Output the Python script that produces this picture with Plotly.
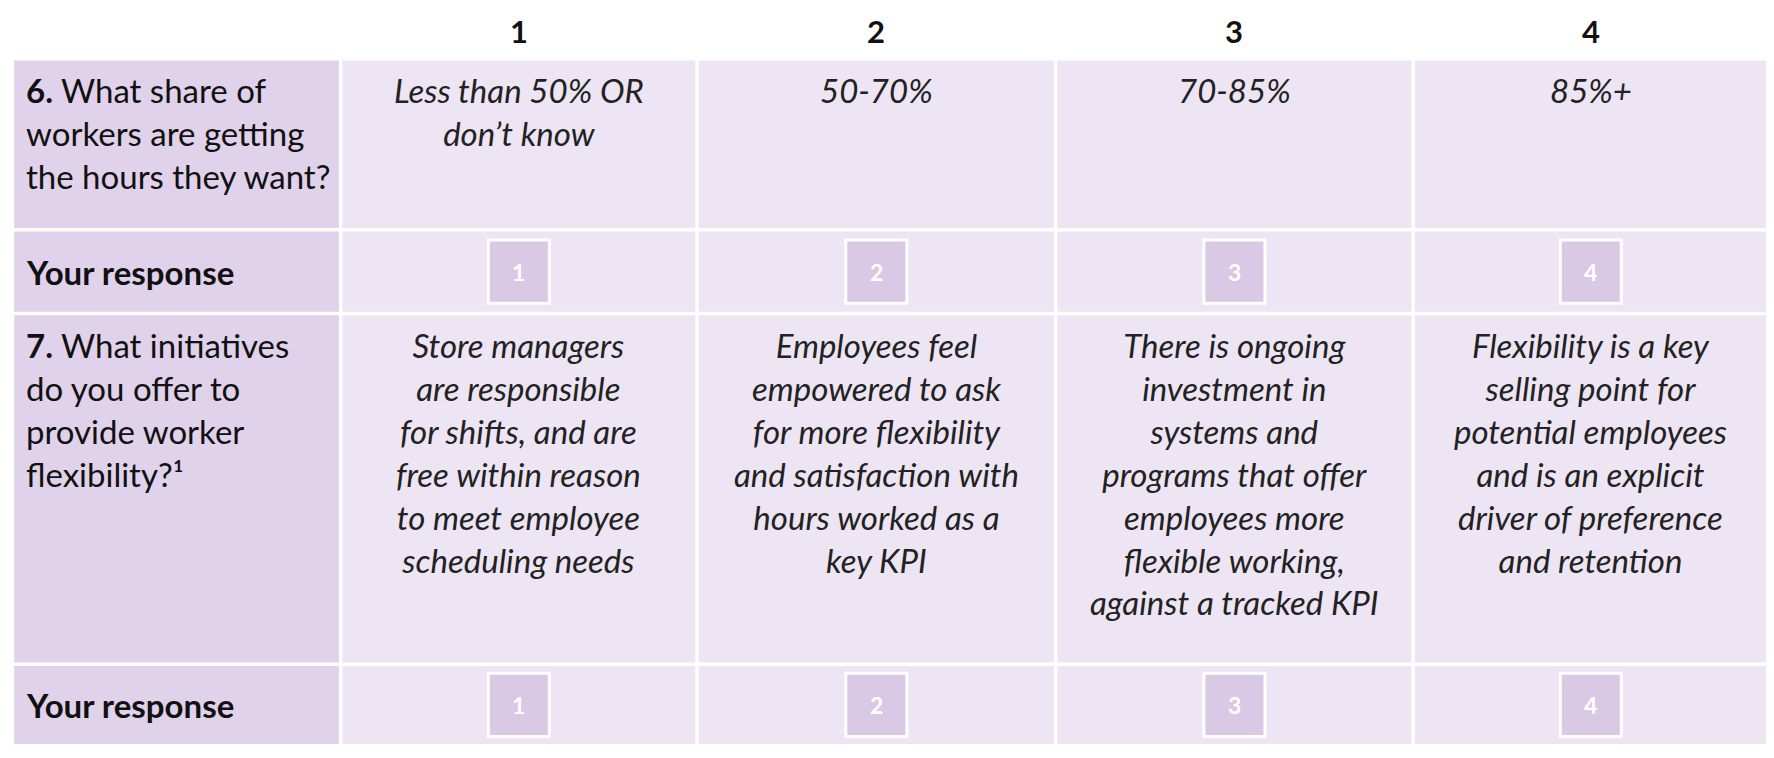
import plotly.graph_objects as go

col_numbers = ["1", "2", "3", "4"]
q6_label = "<b>6.</b> What share of<br>workers are getting<br>the hours they want?"
q6_options = ["<i>Less than 50% OR<br>don’t know</i>", "<i>50-70%</i>", "<i>70-85%</i>", "<i>85%+</i>"]
q7_label = "<b>7.</b> What initiatives<br>do you offer to<br>provide worker<br>flexibility?¹"
q7_options = [
    "<i>Store managers<br>are responsible<br>for shifts, and are<br>free within reason<br>to meet employee<br>scheduling needs</i>",
    "<i>Employees feel<br>empowered to ask<br>for more flexibility<br>and satisfaction with<br>hours worked as a<br>key KPI</i>",
    "<i>There is ongoing<br>investment in<br>systems and<br>programs that offer<br>employees more<br>flexible working,<br>against a tracked KPI</i>",
    "<i>Flexibility is a key<br>selling point for<br>potential employees<br>and is an explicit<br>driver of preference<br>and retention</i>",
]
response_label = "<b>Your response</b>"

# layout grid (display units, 1568 x 670)
W, H = 1568, 670
col_edges = [4, 294, 609, 926, 1242, 1556]
row_edges = [45, 196, 270, 580, 652]
LABEL_BG = "#e0d2ea"
CELL_BG = "#ede5f3"
BOX_BG = "#dac9e5"
FONT = "Lato"
gap = 1.5

fig = go.Figure()
shapes, ann = [], []
for r in range(4):
    y0, y1 = row_edges[r] + gap, row_edges[r + 1] - gap
    for c in range(5):
        x0, x1 = col_edges[c] + gap, col_edges[c + 1] - gap
        shapes.append(dict(type="rect", x0=x0, x1=x1, y0=y0, y1=y1, line=dict(width=0),
                           fillcolor=LABEL_BG if c == 0 else CELL_BG, layer="below"))

for i, n in enumerate(col_numbers):
    cx = (col_edges[i + 1] + col_edges[i + 2]) / 2
    ann.append(dict(x=cx, y=20, text=f"<b>{n}</b>", showarrow=False, font=dict(size=31, color="#111")))

def label(text, r, top):
    ann.append(dict(x=col_edges[0] + 10, y=(row_edges[r] + 8) if top else (row_edges[r] + row_edges[r + 1]) / 2,
                    text=text, showarrow=False, xanchor="left", yanchor="top" if top else "middle",
                    align="left", font=dict(size=33, color="#111", family=FONT)))

label(q6_label, 0, True)
label(response_label, 1, False)
label(q7_label, 2, True)
label(response_label, 3, False)

for r, opts in ((0, q6_options), (2, q7_options)):
    for i, t in enumerate(opts):
        cx = (col_edges[i + 1] + col_edges[i + 2]) / 2
        ann.append(dict(x=cx, y=row_edges[r] + 8, text=t, showarrow=False, yanchor="top",
                        align="center", font=dict(size=33, color="#222", family=FONT)))

for r in (1, 3):
    cy = (row_edges[r] + row_edges[r + 1]) / 2
    for i, n in enumerate(col_numbers):
        cx = (col_edges[i + 1] + col_edges[i + 2]) / 2
        shapes.append(dict(type="rect", x0=cx - 27, x1=cx + 27, y0=cy - 28, y1=cy + 28,
                           fillcolor=BOX_BG, line=dict(color="white", width=3)))
        ann.append(dict(x=cx, y=cy, text=f"<b>{n}</b>", showarrow=False,
                        font=dict(size=23, color="white", family=FONT)))

fig.update_layout(width=1774, height=758, margin=dict(l=0, r=0, t=0, b=0),
                  paper_bgcolor="white", plot_bgcolor="white", shapes=shapes, annotations=ann,
                  xaxis=dict(range=[0, W], visible=False, fixedrange=True),
                  yaxis=dict(range=[H, 0], visible=False, fixedrange=True),
                  font=dict(family=FONT))
fig.write_html("out.html")
